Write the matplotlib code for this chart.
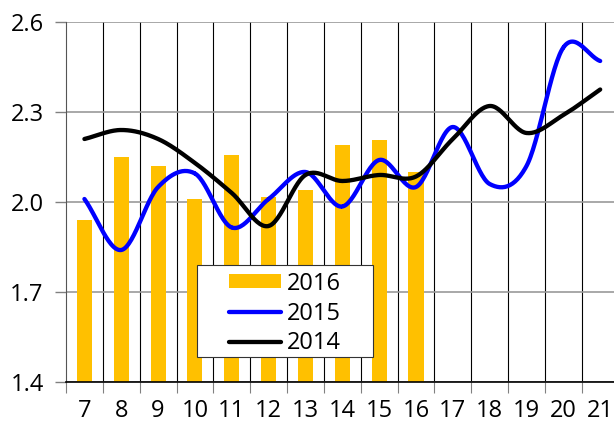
import numpy as np
import matplotlib
matplotlib.use('Agg')
import matplotlib.pyplot as plt
from matplotlib.patches import Rectangle

plt.rcParams['font.family'] = ['Open Sans', 'DejaVu Sans']

weeks = list(range(7, 22))
y2016 = [1.94, 2.15, 2.12, 2.01, 2.155, 2.015, 2.04, 2.19, 2.205, 2.10]
y2015 = [2.01, 1.84, 2.05, 2.095, 1.915, 2.01, 2.10, 1.985, 2.14, 2.05,
         2.25, 2.06, 2.12, 2.515, 2.47]
y2014 = [2.21, 2.24, 2.21, 2.13, 2.03, 1.92, 2.09, 2.07, 2.09, 2.085,
         2.21, 2.32, 2.23, 2.29, 2.375]


def smooth(x, y, n=30):
    # catmull-rom through the points, like excel's smoothed line
    x = np.asarray(x, float)
    y = np.asarray(y, float)
    px = np.concatenate([[2 * x[0] - x[1]], x, [2 * x[-1] - x[-2]]])
    py = np.concatenate([[2 * y[0] - y[1]], y, [2 * y[-1] - y[-2]]])
    xs, ys = [], []
    t = np.linspace(0, 1, n)
    for i in range(1, len(px) - 2):
        for p, out in ((px, xs), (py, ys)):
            p0, p1, p2, p3 = p[i - 1], p[i], p[i + 1], p[i + 2]
            out.extend(0.5 * (2 * p1 + (-p0 + p2) * t
                              + (2 * p0 - 5 * p1 + 4 * p2 - p3) * t ** 2
                              + (-p0 + 3 * p1 - 3 * p2 + p3) * t ** 3))
    return xs, ys


fig = plt.figure(figsize=(6.14, 4.29), dpi=100)
ax = fig.add_axes([0.1075, 0.1096, 0.9, 0.8391])

bars = ax.bar(weeks[:len(y2016)], y2016, width=0.41, color='#FFC000', label='2016', zorder=2)
xs, ys = smooth(weeks, y2015)
l15, = ax.plot(xs, ys, color='#0000FF', lw=3.1, label='2015', zorder=3, solid_capstyle='round')
xs, ys = smooth(weeks, y2014)
l14, = ax.plot(xs, ys, color='black', lw=3.1, label='2014', zorder=3, solid_capstyle='round')

ax.set_xlim(6.5, 21.5)
ax.set_ylim(1.4, 2.6)
ax.set_yticks([1.4, 1.7, 2.0, 2.3, 2.6])
ax.set_yticklabels(['1.4', '1.7', '2.0', '2.3', '2.6'])
ax.set_xticks(weeks)
ax.set_xticklabels([str(w) for w in weeks])
ax.set_xticks(np.arange(6.5, 21.5, 1), minor=True)
ax.tick_params(axis='x', which='major', length=0, labelsize=17, pad=12)
ax.tick_params(axis='x', which='minor', length=8, width=0.8, color='#808080')
ax.tick_params(axis='y', length=8, width=1, color='#808080', labelsize=17, pad=8)

ax.grid(axis='y', color='#999999', lw=1.2, zorder=0)
for b in np.arange(7.5, 21.5, 1):
    ax.axvline(b, color='black', lw=0.8, zorder=1)

for s in ['top', 'right']:
    ax.spines[s].set_visible(False)
ax.spines['left'].set_color('#555555')
ax.spines['bottom'].set_color('black')
ax.spines['bottom'].set_linewidth(1.2)

# legend box drawn by hand so the padding matches
ax.add_patch(Rectangle((0.237, 0.069), 0.319, 0.256, transform=ax.transAxes,
                       facecolor='white', edgecolor='#333333', lw=0.8, zorder=4))
ax.legend([bars, l15, l14], ['2016', '2015', '2014'], loc='center',
          bbox_to_anchor=(0.397, 0.19), fontsize=17, frameon=False,
          handlelength=2.2, handleheight=0.55, labelspacing=0.25, borderpad=0,
          handletextpad=0.25).set_zorder(5)

fig.savefig('out.png', dpi=100)
